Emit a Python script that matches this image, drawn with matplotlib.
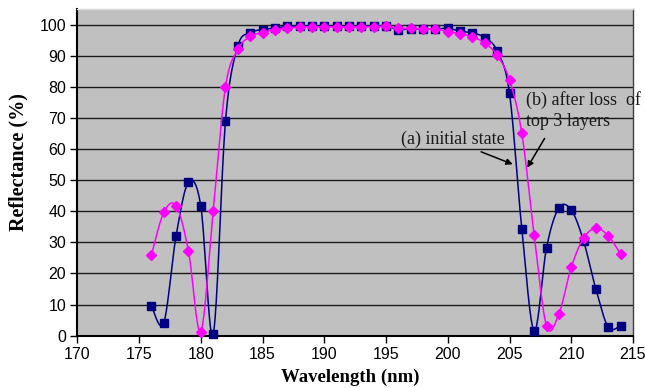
import numpy as np
import matplotlib
matplotlib.use("Agg")
import matplotlib.pyplot as plt

wavelength = list(range(176, 215))
initial_state = [9.6, 4.1, 32.1, 49.3, 41.7, 0.5, 69.0, 93.1, 97.3, 98.4,
                 98.8, 99.4, 99.5, 99.5, 99.5, 99.5, 99.5, 99.5, 99.5, 99.5,
                 98.4, 98.6, 98.6, 98.6, 98.8, 97.9, 97.3, 95.8, 91.5, 77.9,
                 34.2, 1.6, 28.3, 41.1, 40.4, 30.4, 14.9, 2.7, 3.2]
after_loss = [25.9, 39.6, 41.7, 27.3, 1.3, 40.1, 80.0, 92.0, 96.2, 97.4,
              98.4, 98.9, 99.2, 99.3, 99.3, 99.3, 99.3, 99.3, 99.3, 99.4,
              98.8, 98.8, 98.6, 98.6, 97.7, 97.1, 96.0, 94.1, 90.1, 82.2,
              65.0, 32.3, 3.1, 7.0, 22.0, 31.4, 34.5, 32.1, 26.2]
x_ticks = [170, 175, 180, 185, 190, 195, 200, 205, 210, 215]
y_ticks = [0, 10, 20, 30, 40, 50, 60, 70, 80, 90, 100]


def smooth(xs, ys, n=20):
    """Excel-style smoothed line (Catmull-Rom Bezier segments)."""
    P = np.column_stack([xs, ys]).astype(float)
    out = [P[0]]
    t = np.linspace(0, 1, n + 1)[1:]
    for i in range(len(P) - 1):
        p0 = P[i - 1] if i > 0 else P[i]
        p1 = P[i]
        p2 = P[i + 1]
        p3 = P[i + 2] if i + 2 < len(P) else P[i + 1]
        c1 = p1 + (p2 - p0) / 6.0
        c2 = p2 - (p3 - p1) / 6.0
        for tt in t:
            b = ((1 - tt) ** 3) * p1 + 3 * ((1 - tt) ** 2) * tt * c1 \
                + 3 * (1 - tt) * tt ** 2 * c2 + tt ** 3 * p2
            out.append(b)
    out = np.array(out)
    return out[:, 0], out[:, 1]


fig = plt.figure(figsize=(6.45, 3.88), dpi=100)
ax = fig.add_axes([77.3 / 645, 1 - 335.7 / 388, (633 - 77.3) / 645, (335.7 - 9) / 388])
ax.set_facecolor("#C0C0C0")

ax.set_xlim(170, 215)
ax.set_ylim(0, 105)
ax.set_xticks(x_ticks)
ax.set_yticks(y_ticks)
for y in y_ticks[1:]:
    ax.axhline(y, color="#1a1a1a", lw=1.0, zorder=1)

bx, by = smooth(wavelength, initial_state)
ax.plot(bx, by, color="#000080", lw=1.1, zorder=3, clip_on=False)
ax.plot(wavelength, initial_state, ls="none", marker="s", ms=5.8,
        color="#000080", zorder=4, clip_on=False)

mx, my = smooth(wavelength, after_loss)
ax.plot(mx, my, color="#FF00FF", lw=1.1, zorder=5, clip_on=False)
ax.plot(wavelength, after_loss, ls="none", marker="D", ms=4.8,
        color="#FF00FF", zorder=6, clip_on=False)

tick_font = {"family": "Liberation Sans", "size": 11.5}
ax.set_xticklabels([str(v) for v in x_ticks], **tick_font)
ax.set_yticklabels([str(v) for v in y_ticks], **tick_font)
ax.tick_params(direction="out", length=5, width=1, color="black", pad=3)

for s in ["left", "bottom"]:
    ax.spines[s].set_color("black")
    ax.spines[s].set_linewidth(1.5)
ax.spines["right"].set_color("#404040")
ax.spines["right"].set_linewidth(1.0)
ax.spines["top"].set_color("#d8d8d8")
ax.spines["top"].set_linewidth(1.0)

serif = "Liberation Serif"
ax.set_xlabel("Wavelength (nm)", family=serif, fontsize=13.5, fontweight="bold")
ax.set_ylabel("Reflectance (%)", family=serif, fontsize=14.5, fontweight="bold")
ax.xaxis.set_label_coords((350.7 - 77.3) / 555.7, -(377.7 - 335.7) / 326.7)
ax.xaxis.label.set_va("center")
ax.yaxis.set_label_coords((18 - 77.3) / 555.7, (335.7 - 162) / 326.7)
ax.yaxis.label.set_va("center")

ax.text(196.25, 63.1, "(a) initial state", family=serif, fontsize=13,
        ha="left", va="center", color="#1a1a1a", zorder=7)
ax.text(206.3, 72.3, "(b) after loss  of\ntop 3 layers", family=serif, fontsize=13,
        ha="left", va="center", color="#1a1a1a", linespacing=1.3, zorder=7)

arrow = dict(arrowstyle="-|>", color="black", lw=1.1, mutation_scale=9,
             shrinkA=0, shrinkB=0)
ax.annotate("", xy=(205.26, 55.1), xytext=(202.7, 59.1), arrowprops=arrow, zorder=7)
ax.annotate("", xy=(206.44, 54.0), xytext=(207.84, 63.4), arrowprops=arrow, zorder=7)

fig.savefig("out.png", dpi=100)
